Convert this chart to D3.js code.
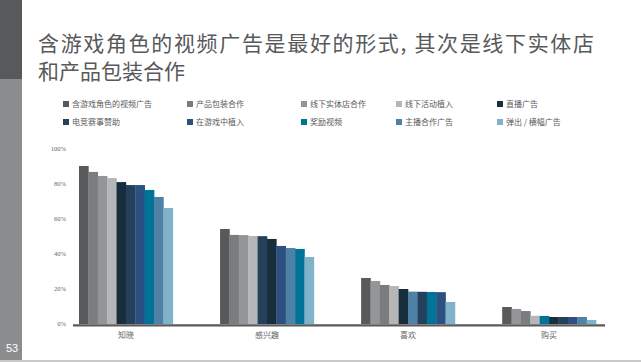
<!DOCTYPE html>
<html lang="zh">
<head>
<meta charset="UTF-8">
<title>含游戏角色的视频广告</title>
<script src="https://d3js.org/d3.v7.min.js"></script>
<style>
  html, body { margin: 0; padding: 0; background: #fff; }
  svg { display: block; font-family: "Noto Sans CJK SC", "Noto Sans", sans-serif; }
</style>
</head>
<body>
<div id="chart"></div>
<script>
// categories (x groups)
const categories = ["知晓", "感兴趣", "喜欢", "购买"];

// series names, in legend order
const seriesNames = [
  "含游戏角色的视频广告", "产品包装合作", "线下实体店合作", "线下活动植入", "直播广告",
  "电竞赛事赞助", "在游戏中植入", "奖励视频", "主播合作广告", "弹出 / 横幅广告"
];

// values per series (% of respondents), one per category
const seriesValues = [
  [90.3, 54.3, 26.3, 9.7],
  [86.9, 50.9, 22.3, 7.4],
  [84.6, 50.8, 24.6, 8.6],
  [83.4, 50.3, 21.7, 4.7],
  [81.1, 48.6, 20.0, 4.0],
  [79.4, 50.2, 18.4, 4.0],
  [79.4, 44.6, 18.2, 4.0],
  [76.6, 42.9, 18.3, 4.6],
  [72.6, 43.4, 18.5, 4.0],
  [66.3, 38.3, 12.6, 2.3]
];

const yTicks = [0, 20, 40, 60, 80, 100];

const colors = ["#58595b", "#7b7c7e", "#949598", "#b5b6b8", "#192e3d",
                "#25405a", "#2c5081", "#007399", "#4e81a6", "#80b2ca"];

const W = 641, H = 362;
const svg = d3.select("#chart").append("svg").attr("width", W).attr("height", H);

// left strip + bottom line
svg.append("rect").attr("x", 0).attr("y", 0).attr("width", 22).attr("height", 79).attr("fill", "#58595b");
svg.append("rect").attr("x", 0).attr("y", 79).attr("width", 22).attr("height", 281).attr("fill", "#8b8c8e");
svg.append("rect").attr("x", 0).attr("y", 360).attr("width", W).attr("height", 2).attr("fill", "#c9c9c9");
svg.append("text").attr("x", 6).attr("y", 352).attr("fill", "#fff")
  .attr("font-size", 11).attr("font-family", "Liberation Sans, sans-serif").text("53");

// title (two lines)
svg.append("text").attr("x", 38).attr("y", 51).attr("fill", "#58595b").attr("font-size", 21)
  .attr("textLength", 556).attr("lengthAdjust", "spacing")
  .text("含游戏角色的视频广告是最好的形式, 其次是线下实体店");
svg.append("text").attr("x", 38).attr("y", 79).attr("fill", "#58595b").attr("font-size", 21)
  .text("和产品包装合作");

// legend
const legendCols = [63, 187, 301, 396, 497];
const legendRows = [104, 122];
const legend = svg.append("g").selectAll("g").data(seriesNames).join("g")
  .attr("transform", (d, i) => `translate(${legendCols[i % 5]},${legendRows[Math.floor(i / 5)]})`);
legend.append("rect").attr("x", 0).attr("y", -3).attr("width", 6).attr("height", 6)
  .attr("fill", (d, i) => colors[i]);
legend.append("text").attr("x", 9).attr("y", 3).attr("font-size", 8).attr("fill", "#58595b").text(d => d);

// scales
const y = d3.scaleLinear().domain([0, 100]).range([324, 149]);
const x0 = d3.scaleBand().domain(categories).range([79, 596]).paddingInner(0.335).paddingOuter(0);
const x1 = d3.scaleBand().domain(d3.range(seriesNames.length)).range([0, x0.bandwidth()]);

// y labels
svg.append("g").selectAll("text").data(yTicks).join("text")
  .attr("x", 66).attr("y", d => y(d)).attr("dy", "0.35em")
  .attr("text-anchor", "end").attr("font-size", 6.5).attr("fill", "#666")
  .attr("font-family", "Liberation Serif, serif")
  .text(d => d + "%");

// bars: within each group, sorted by value descending
categories.forEach((cat, ci) => {
  const items = seriesNames.map((name, si) => ({ si, v: seriesValues[si][ci] }));
  const sorted = items.slice().sort((a, b) => d3.descending(a.v, b.v));
  svg.append("g").selectAll("rect").data(sorted).join("rect")
    .attr("x", (d, r) => x0(cat) + x1(r))
    .attr("width", x1.bandwidth() + 0.3)
    .attr("y", d => y(d.v))
    .attr("height", d => y(0) - y(d.v))
    .attr("fill", d => colors[d.si]);
});

// baseline
svg.append("line").attr("x1", 73).attr("x2", 605).attr("y1", 325.3).attr("y2", 325.3)
  .attr("stroke", "#58595b").attr("stroke-width", 2.2);

// category labels
svg.append("g").selectAll("text").data(categories).join("text")
  .attr("x", d => x0(d) + x0.bandwidth() / 2).attr("y", 337.5)
  .attr("text-anchor", "middle").attr("font-size", 8).attr("fill", "#666")
  .text(d => d);
</script>
</body>
</html>
